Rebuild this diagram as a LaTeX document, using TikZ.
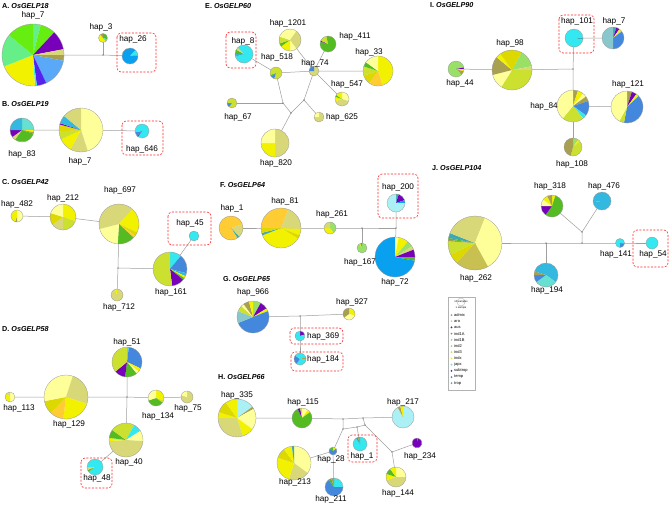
\documentclass[tikz,border=0pt]{standalone}
\usepackage{fontspec}
\setmainfont{Liberation Sans}
\usepackage{tikz}
\usetikzlibrary{calc}

\definecolor{khaki}{HTML}{D8D878}
\definecolor{dkkhaki}{HTML}{C8C050}
\definecolor{paley}{HTML}{FFFF99}
\definecolor{yel}{HTML}{F2F200}
\definecolor{yg}{HTML}{CCE030}
\definecolor{dkyel}{HTML}{DCD800}
\definecolor{oryel}{HTML}{FFCC33}
\definecolor{grn}{HTML}{55BB22}
\definecolor{ltgrn}{HTML}{99E066}
\definecolor{brgrn}{HTML}{66EE11}
\definecolor{mint}{HTML}{66EE88}
\definecolor{cyn}{HTML}{33E8F0}
\definecolor{pcyn}{HTML}{AAF0F4}
\definecolor{mcyn}{HTML}{66E0D0}
\definecolor{cynb}{HTML}{33B8E0}
\definecolor{blu}{HTML}{4488DD}
\definecolor{sky}{HTML}{0AA0F0}
\definecolor{skyl}{HTML}{5AA8F8}
\definecolor{vio}{HTML}{5522EE}
\definecolor{purp}{HTML}{7700BB}
\definecolor{tealg}{HTML}{40A8B0}
\definecolor{gteal}{HTML}{88C8CC}
\definecolor{olv}{HTML}{A8A050}

\tikzset{
  edge/.style={gray!75, line width=0.5pt},
  pierim/.style={gray!80, line width=0.3pt},
  lab/.style={font=\fontsize{8.2}{9}\selectfont, inner sep=0pt},
  ttl/.style={font=\fontsize{7.2}{8}\selectfont\bfseries, anchor=west, inner sep=0pt},
  hlbox/.style={draw=red!85, dash pattern=on 2pt off 1.5pt, rounded corners=4pt, line width=0.6pt},
  jdot/.style={fill=black!70},
  legtxt/.style={font=\fontsize{4}{4.5}\selectfont, anchor=west, inner sep=0pt}
}

% pie: centre, radius (pt), list of percent/colour, clockwise from top
\newcommand{\hpie}[3]{%
  \xdef\pieang{90}%
  \foreach \pv/\pc in {#3}{%
    \pgfmathsetmacro\pieend{\pieang-3.6*\pv}%
    \fill[\pc] (#1) -- ++(\pieang:#2pt) arc[start angle=\pieang, end angle=\pieend, radius=#2pt] -- cycle;
    \xdef\pieang{\pieend}%
  }%
  \draw[pierim] (#1) circle (#2pt);
}

\begin{document}
\begin{tikzpicture}[x=1pt, y=-1pt]
    \useasboundingbox (0,0) rectangle (669,504);
    \fill[white] (0,0) rectangle (669,504);

    % A
    \coordinate (A7) at (33,55);
    \coordinate (A3) at (103,38);
    \coordinate (A26) at (130,56);
    \coordinate (jA) at (103,55);
    % B
    \coordinate (B83) at (22,130);
    \coordinate (B7) at (81,130);
    \coordinate (B646) at (142,131);
    % C
    \coordinate (C482) at (17,216);
    \coordinate (C212) at (63,217);
    \coordinate (C697) at (119,224);
    \coordinate (C161) at (170,269);
    \coordinate (C712) at (117,295);
    \coordinate (C45) at (194,236);
    \coordinate (jC) at (118,268);
    % D
    \coordinate (D51) at (127,362);
    \coordinate (D113) at (10,397);
    \coordinate (D129) at (66,397);
    \coordinate (D134) at (156,398);
    \coordinate (D75) at (187,397);
    \coordinate (D40) at (126,440);
    \coordinate (D48) at (95,467);
    \coordinate (jD) at (127,397);
    % E
    \coordinate (E1201) at (290,40);
    \coordinate (E411) at (328,44);
    \coordinate (E8) at (244,54);
    \coordinate (E518) at (276,73);
    \coordinate (E74) at (314,71);
    \coordinate (E33) at (378,71);
    \coordinate (E547) at (342,99);
    \coordinate (E67) at (232,103);
    \coordinate (E625) at (319,117);
    \coordinate (E820) at (275,143);
    \coordinate (jE1) at (283,103);
    \coordinate (jE2) at (291,113);
    \coordinate (jE3) at (304,100);
    % F
    \coordinate (F1) at (231,228);
    \coordinate (F81) at (281,228);
    \coordinate (F261) at (330,228);
    \coordinate (F167) at (362,248);
    \coordinate (F200) at (396,203);
    \coordinate (F72) at (395,257);
    \coordinate (jF1) at (362,228);
    \coordinate (jF2) at (396,228);
    % G
    \coordinate (G966) at (253,317);
    \coordinate (G927) at (349,314);
    \coordinate (G369) at (300,336);
    \coordinate (G184) at (300,359);
    \coordinate (jG) at (300,316);
    % H
    \coordinate (H335) at (237,418);
    \coordinate (H115) at (302,418);
    \coordinate (H217) at (403,417);
    \coordinate (H1) at (360,444);
    \coordinate (H234) at (417,443);
    \coordinate (H28) at (333,451);
    \coordinate (H213) at (294,463);
    \coordinate (H211) at (334,487);
    \coordinate (H144) at (396,477);
    \coordinate (jH1) at (343,419);
    \coordinate (jH2) at (363,418);
    \coordinate (jH3) at (343,429);
    \coordinate (jH4) at (365,425);
    \coordinate (jH5) at (392,452);
    \coordinate (jH6) at (357,427);
    % I
    \coordinate (I101) at (574,38);
    \coordinate (I7) at (613,38);
    \coordinate (I98) at (512,70);
    \coordinate (I44) at (456,69);
    \coordinate (I84) at (573,106);
    \coordinate (I121) at (627,107);
    \coordinate (I108) at (573,147);
    \coordinate (jI) at (573,69);
    % J
    \coordinate (J262) at (475,243);
    \coordinate (J318) at (552,206);
    \coordinate (J476) at (602,201);
    \coordinate (J194) at (546,275);
    \coordinate (J141) at (620,243);
    \coordinate (J54) at (652,243);
    \coordinate (jJ1) at (546,243);
    \coordinate (jJ2) at (582,243);
    \coordinate (jJ3) at (582,232);

    % network edges
    \draw[edge] (A7) -- (jA) -- (A26);
    \draw[edge] (jA) -- (A3);
    \draw[edge] (B83) -- (B7) -- (B646);
    \draw[edge] (C482) -- (C212) -- (C697);
    \draw[edge] (C697) -- (jC) -- (C712);
    \draw[edge] (jC) -- (C161) -- (C45);
    \draw[edge] (D113) -- (D129) -- (jD) -- (D134) -- (D75);
    \draw[edge] (D51) -- (jD) -- (D40) -- (D48);
    \draw[edge] (E8) -- (E518) -- (E74) -- (E33);
    \draw[edge] (E1201) -- (E74) -- (E547);
    \draw[edge] (E411) -- (E74);
    \draw[edge] (E518) -- (jE1) -- (jE2) -- (E820);
    \draw[edge] (E67) -- (jE1);
    \draw[edge] (jE2) -- (jE3) -- (E74);
    \draw[edge] (jE3) -- (E625);
    \draw[edge] (F1) -- (F81) -- (F261) -- (jF1) -- (jF2);
    \draw[edge] (jF1) -- (F167);
    \draw[edge] (F200) -- (jF2) -- (F72);
    \draw[edge] (G966) -- (jG) -- (G927);
    \draw[edge] (jG) -- (G369) -- (G184);
    \draw[edge] (H335) -- (H115) -- (jH1) -- (jH2) -- (H217);
    \draw[edge] (jH1) -- (jH3) -- (H28);
    \draw[edge] (jH3) -- (jH6) -- (jH4);
    \draw[edge] (jH6) -- (H1);
    \draw[edge] (jH2) -- (jH4) -- (jH5) -- (H144);
    \draw[edge] (jH5) -- (H234);
    \draw[edge] (H213) -- (H28) -- (H211);
    \draw[edge] (I44) -- (I98) -- (jI) -- (I101) -- (I7);
    \draw[edge] (jI) -- (I84) -- (I121);
    \draw[edge] (I84) -- (I108);
    \draw[edge] (J262) -- (jJ1) -- (jJ2) -- (J141) -- (J54);
    \draw[edge] (jJ1) -- (J194);
    \draw[edge] (jJ2) -- (jJ3) -- (J318);
    \draw[edge] (jJ3) -- (J476);

    \foreach \j in {jA,jC,jD,jE1,jE2,jE3,jF1,jF2,jG,jH1,jH2,jH3,jH4,jH5,jH6,jI,jJ1,jJ2,jJ3}
      \fill[jdot] (\j) circle (0.7pt);

    % pies
    \hpie{A7}{31}{4/mint, 8/brgrn, 10/purp, 3/khaki, 3/olv, 15/skyl, 5/vio, 1/cyn, 20/yel, 17/mint, 14/brgrn}
    \hpie{A3}{4.5}{30/grn, 10/cyn, 50/yel, 10/olv}
    \hpie{A26}{8}{12/sky, 10/cyn, 2/olv, 76/sky}
    \hpie{B83}{12}{25/mcyn, 3/yel, 2/olv, 30/grn, 5/khaki, 10/purp, 25/cynb}
    \hpie{B7}{22}{45/paley, 13/khaki, 10/yel, 6/yg, 5/dkyel, 1/purp, 6/cynb, 14/khaki}
    \hpie{B646}{7}{60/cyn, 2/purp, 10/blu, 28/cyn}
    \hpie{C482}{6}{50/paley, 5/olv, 45/yel}
    \hpie{C212}{13}{30/yel, 20/yg, 15/khaki, 15/dkyel, 20/paley}
    \hpie{C697}{20}{12/khaki, 20/yel, 3/dkyel, 2/oryel, 14/grn, 20/paley, 29/khaki}
    \hpie{C45}{5}{100/cyn}
    \hpie{C161}{17}{11/cyn, 18/blu, 3/cynb, 2/yel, 2/grn, 12/purp, 52/yg}
    \hpie{C712}{6}{95/khaki, 5/yel}
    \hpie{D51}{15}{2/cyn, 30/blu, 4/yel, 3/paley, 13/grn, 12/purp, 36/yg}
    \hpie{D113}{5}{50/paley, 40/yel, 10/khaki}
    \hpie{D129}{22}{5/paley, 25/khaki, 22/yel, 10/oryel, 10/dkyel, 28/paley}
    \hpie{D134}{8}{30/yel, 5/yg, 35/grn, 30/paley}
    \hpie{D75}{6}{80/khaki, 20/paley}
    \hpie{D40}{17}{8/yg, 8/cyn, 10/paley, 48/khaki, 3/yel, 8/grn, 15/yg}
    \hpie{D48}{8}{65/cyn, 4/grn, 6/khaki, 25/cyn}
    \hpie{E1201}{11}{10/paley, 30/khaki, 10/paley, 15/yel, 5/grn, 10/yg, 20/paley}
    \hpie{E411}{8}{80/grn, 2/purp, 15/yg, 3/grn}
    \hpie{E8}{9}{70/cyn, 5/cynb, 8/grn, 5/khaki, 12/cyn}
    \hpie{E518}{6}{55/yg, 10/blu, 5/grn, 30/yg}
    \hpie{E74}{5}{75/khaki, 25/blu}
    \hpie{E33}{15}{45/yel, 15/oryel, 10/dkyel, 10/yg, 5/grn, 15/paley}
    \hpie{E547}{7}{30/paley, 40/khaki, 10/yel, 5/grn, 15/yel}
    \hpie{E67}{5}{60/yg, 15/blu, 25/yg}
    \hpie{E625}{5}{75/khaki, 25/paley}
    \hpie{E820}{14}{50/khaki, 25/yel, 25/paley}
    \hpie{F1}{12}{20/oryel, 18/khaki, 3/tealg, 59/oryel}
    \hpie{F81}{20}{6/oryel, 20/khaki, 5/yel, 3/dkyel, 35/yel, 2/tealg, 4/dkyel, 25/oryel}
    \hpie{F261}{6}{40/ltgrn, 35/yel, 25/khaki}
    \hpie{F167}{5}{90/ltgrn, 5/yel, 5/tealg}
    \hpie{F200}{9}{5/tealg, 15/purp, 5/sky, 75/pcyn}
    \hpie{F72}{20}{3/paley, 8/yel, 5/ltgrn, 3/khaki, 6/purp, 3/grn, 72/sky}
    \hpie{G966}{16}{8/ltgrn, 8/purp, 3/yel, 50/blu, 12/gteal, 6/yg, 3/paley, 6/olv, 4/yel}
    \hpie{G927}{6}{30/yel, 35/paley, 35/olv}
    \hpie{G369}{5}{20/purp, 80/cyn}
    \hpie{G184}{6}{20/cyn, 5/olv, 35/cyn, 25/blu, 15/cyn}
    \hpie{H335}{19}{15/pcyn, 2/olv, 18/paley, 10/yel, 30/khaki, 5/yel, 10/dkyel, 10/yel}
    \hpie{H115}{10}{10/paley, 5/yel, 78/grn, 4/purp, 3/yg}
    \hpie{H217}{11}{92/pcyn, 4/olv, 4/yel}
    \hpie{H1}{7}{90/cyn, 5/tealg, 5/olv}
    \hpie{H234}{5}{5/grn, 95/purp}
    \hpie{H28}{4}{15/yel, 70/blu, 15/grn}
    \hpie{H213}{17}{35/paley, 20/khaki, 25/yel, 10/dkyel, 8/yel, 2/tealg}
    \hpie{H211}{9}{25/cyn, 65/blu, 5/grn, 5/olv}
    \hpie{H144}{10}{25/paley, 45/khaki, 10/yel, 10/grn, 10/yel}
    \hpie{I101}{9}{25/cyn, 3/tealg, 72/cyn}
    \hpie{I7}{11}{5/tealg, 5/purp, 3/yel, 2/khaki, 35/blu, 50/gteal}
    \hpie{I98}{20}{8/dkyel, 14/ltgrn, 3/khaki, 34/yg, 12/paley, 15/olv, 4/yel, 10/dkyel}
    \hpie{I44}{8}{22/ltgrn, 3/purp, 5/yel, 8/olv, 62/ltgrn}
    \hpie{I84}{16}{5/olv, 6/yel, 4/paley, 5/olv, 15/blu, 4/cyn, 22/yg, 39/paley}
    \hpie{I121}{16}{5/olv, 5/purp, 3/yel, 40/blu, 5/yg, 42/paley}
    \hpie{I108}{9}{10/ltgrn, 4/yel, 40/yg, 46/olv}
    \hpie{J262}{27}{6/khaki, 36/paley, 20/dkkhaki, 6/dkyel, 8/yg, 1/olv, 1/grn, 3/tealg, 19/khaki}
    \hpie{J318}{11}{5/yel, 55/grn, 15/purp, 10/paley, 8/yel, 7/olv}
    \hpie{J476}{9}{73/cynb, 2/olv, 25/cynb}
    \hpie{J194}{12}{35/cynb, 30/mcyn, 10/blu, 5/olv, 20/cynb}
    \hpie{J141}{4.5}{25/cyn, 5/olv, 20/blu, 50/cyn}
    \hpie{J54}{6}{100/cyn}

    % highlighted haplotypes
    \draw[hlbox] (117,33) rectangle (156,72);
    \draw[hlbox] (122,121) rectangle (163,155);
    \draw[hlbox] (168,212) rectangle (211,245);
    \draw[hlbox] (81,458) rectangle (112,488);
    \draw[hlbox] (226,32) rectangle (256,68);
    \draw[hlbox] (378,174) rectangle (418,218);
    \draw[hlbox] (290,328) rectangle (343,344);
    \draw[hlbox] (291,352) rectangle (343,371);
    \draw[hlbox] (348,435) rectangle (377,462);
    \draw[hlbox] (559,15) rectangle (594,53);
    \draw[hlbox] (633,230) rectangle (668,267);

    % panel titles
    \node[ttl] (tA) at (2,6) {A. \textit{OsGELP18}};
    \node[ttl] (tB) at (2,104) {B. \textit{OsGELP19}};
    \node[ttl] (tC) at (2,182) {C. \textit{OsGELP42}};
    \node[ttl] (tD) at (2,329) {D. \textit{OsGELP58}};
    \node[ttl] (tE) at (205,6) {E. \textit{OsGELP60}};
    \node[ttl] (tF) at (220,185) {F. \textit{OsGELP64}};
    \node[ttl] (tG) at (223,279) {G. \textit{OsGELP65}};
    \node[ttl] (tH) at (218,377) {H. \textit{OsGELP66}};
    \node[ttl] (tI) at (430,5) {I. \textit{OsGELP90}};
    \node[ttl] (tJ) at (432,168) {J. \textit{OsGELP104}};

    % haplotype labels
    \node[lab] (lA7) at (33,15) {hap\_7};
    \node[lab] (lA3) at (101,27) {hap\_3};
    \node[lab] (lA26) at (133,39) {hap\_26};
    \node[lab] (lB83) at (22,154) {hap\_83};
    \node[lab] (lB7) at (80,161) {hap\_7};
    \node[lab] (lB646) at (142,149) {hap\_646};
    \node[lab] (lC482) at (17,204) {hap\_482};
    \node[lab] (lC212) at (63,198) {hap\_212};
    \node[lab] (lC697) at (120,190) {hap\_697};
    \node[lab] (lC45) at (190,223) {hap\_45};
    \node[lab] (lC161) at (171,292) {hap\_161};
    \node[lab] (lC712) at (119,307) {hap\_712};
    \node[lab] (lD51) at (127,342) {hap\_51};
    \node[lab] (lD113) at (19,408) {hap\_113};
    \node[lab] (lD129) at (69,424) {hap\_129};
    \node[lab] (lD134) at (158,416) {hap\_134};
    \node[lab] (lD75) at (188,408) {hap\_75};
    \node[lab] (lD40) at (129,462) {hap\_40};
    \node[lab] (lD48) at (97,478) {hap\_48};
    \node[lab] (lE1201) at (288,23) {hap\_1201};
    \node[lab] (lE411) at (355,36) {hap\_411};
    \node[lab] (lE8) at (243,41) {hap\_8};
    \node[lab] (lE518) at (277,57) {hap\_518};
    \node[lab] (lE74) at (315,63) {hap\_74};
    \node[lab] (lE33) at (369,52) {hap\_33};
    \node[lab] (lE547) at (347,84) {hap\_547};
    \node[lab] (lE67) at (238,117) {hap\_67};
    \node[lab] (lE625) at (342,117) {hap\_625};
    \node[lab] (lE820) at (276,163) {hap\_820};
    \node[lab] (lF1) at (232,208) {hap\_1};
    \node[lab] (lF81) at (285,201) {hap\_81};
    \node[lab] (lF261) at (332,214) {hap\_261};
    \node[lab] (lF167) at (360,262) {hap\_167};
    \node[lab] (lF200) at (398,187) {hap\_200};
    \node[lab] (lF72) at (395,282) {hap\_72};
    \node[lab] (lG966) at (253,292) {hap\_966};
    \node[lab] (lG927) at (352,302) {hap\_927};
    \node[lab, anchor=west] (lG369) at (307,336) {hap\_369};
    \node[lab, anchor=west] (lG184) at (307,359) {hap\_184};
    \node[lab] (lH335) at (237,395) {hap\_335};
    \node[lab] (lH115) at (303,402) {hap\_115};
    \node[lab] (lH217) at (403,402) {hap\_217};
    \node[lab] (lH1) at (362,456) {hap\_1};
    \node[lab] (lH234) at (420,456) {hap\_234};
    \node[lab] (lH28) at (331,459) {hap\_28};
    \node[lab] (lH213) at (295,482) {hap\_213};
    \node[lab] (lH211) at (331,499) {hap\_211};
    \node[lab] (lH144) at (398,493) {hap\_144};
    \node[lab] (lI101) at (577,21) {hap\_101};
    \node[lab] (lI7) at (614,21) {hap\_7};
    \node[lab] (lI98) at (510,43) {hap\_98};
    \node[lab] (lI44) at (460,83) {hap\_44};
    \node[lab] (lI84) at (544,106) {hap\_84};
    \node[lab] (lI121) at (628,84) {hap\_121};
    \node[lab] (lI108) at (572,164) {hap\_108};
    \node[lab] (lJ262) at (476,278) {hap\_262};
    \node[lab] (lJ318) at (550,186) {hap\_318};
    \node[lab] (lJ476) at (604,186) {hap\_476};
    \node[lab] (lJ194) at (547,290) {hap\_194};
    \node[lab] (lJ141) at (616,254) {hap\_141};
    \node[lab] (lJ54) at (653,254) {hap\_54};

    % legend
    \draw[gray!60, line width=0.4pt] (448,297) rectangle (475,390);
    \draw[gray!70, line width=0.3pt] (461,302) circle (4pt);
    \node[font=\fontsize{2.6}{3}\selectfont, inner sep=0pt] (k10) at (461,302) {10 samples};
    \node[font=\fontsize{2.6}{3}\selectfont, inner sep=0pt] (k1) at (461,308) {1 sample};
    \foreach \nm/\cl [count=\i from 0] in {admix/olv, aro/khaki, aus/purp, ind1A/grn, ind1B/mint, ind2/ltgrn, ind3/yg, indx/yel, japx/mcyn, subtrop/vio, temp/sky, trop/cynb}{
      \fill[\cl] (451.5,{315+6.2*\i}) circle (1pt);
      \node[legtxt] (k\nm) at (454,{315+6.2*\i}) {\nm};
    }
\end{tikzpicture}
\end{document}
